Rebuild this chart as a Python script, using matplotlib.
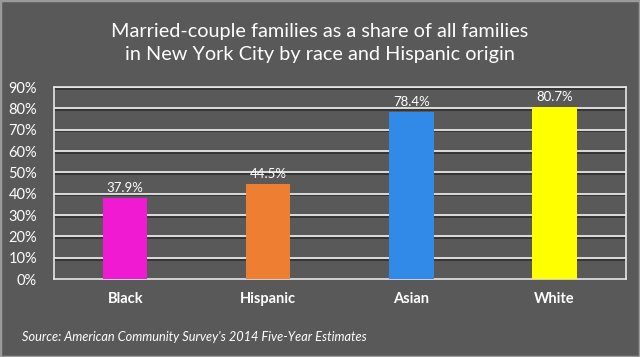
import matplotlib
matplotlib.use("Agg")
import matplotlib.pyplot as plt
import matplotlib.patheffects as pe

categories = ["Black", "Hispanic", "Asian", "White"]
values = [37.9, 44.5, 78.4, 80.7]
colors = ["#f01ad2", "#ee7f32", "#328ae8", "#ffff00"]
yticks = [0, 10, 20, 30, 40, 50, 60, 70, 80, 90]
title = "Married-couple families as a share of all families\nin New York City by race and Hispanic origin"
source = "Source: American Community Survey's 2014 Five-Year Estimates"

plt.rcParams['font.family'] = ['Lato', 'DejaVu Sans']
bg = "#595959"
fig = plt.figure(figsize=(6.4, 3.57), dpi=100, facecolor=bg)
fig.patches.append(plt.Rectangle((0, 0), 1, 1, transform=fig.transFigure,
                                 fill=False, edgecolor="#9a9a9a", lw=2.5))
ax = fig.add_axes([0.084, 0.218, 0.894, 0.538])
ax.set_facecolor(bg)
x = list(range(len(categories)))
ax.set_xlim(-0.5, 3.5)
ax.set_ylim(0, 90)
for t in yticks[1:]:
    ax.axhline(t, color="#e6e6e6", lw=1.3, zorder=1,
               path_effects=[pe.SimpleLineShadow(offset=(0, -1.2), shadow_color="#2a2a2a", alpha=0.8), pe.Normal()])
ax.bar(x, values, width=0.31, color=colors, zorder=3)
for xi, v in zip(x, values):
    ax.text(xi, v + 2.0, f"{v:.1f}%", ha="center", va="bottom", color="white", fontsize=9.5)
ax.set_yticks(yticks)
ax.set_yticklabels([f"{t}%" for t in yticks], color="white", fontsize=10.5)
ax.set_xticks(x)
ax.set_xticklabels(categories, color="white", fontsize=10.5, fontweight="bold")
ax.tick_params(axis="y", length=0, pad=12)
ax.tick_params(axis="x", length=0, pad=9)
for s in ax.spines.values():
    s.set_color("#e6e6e6")
    s.set_linewidth(1.2)
fig.text(0.5, 0.88, title, ha="center", va="center", color="white", fontsize=14.3, linespacing=1.4)
fig.text(0.034, 0.057, source, ha="left", va="center", color="white", fontsize=9.2, style="italic")
fig.savefig("out.png", dpi=100, facecolor=bg)
